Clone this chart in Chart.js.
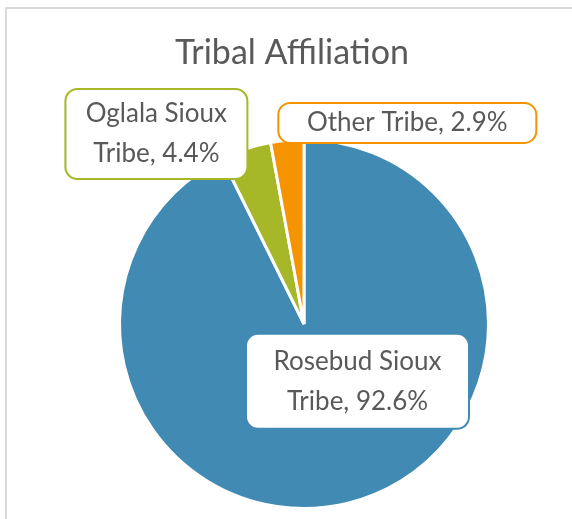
<!DOCTYPE html>
<html>
<head>
<meta charset="utf-8">
<script src="https://cdn.jsdelivr.net/npm/chart.js@4/dist/chart.umd.min.js"></script>
<style>
    body { margin: 0; background: #fff; overflow: hidden; }
    #marco { position: absolute; left: 5px; top: 7px; width: 620px; height: 620px; border: 2px solid #d9d9d9; }
    #lienzo { position: absolute; left: 0; top: 0; }
</style>
</head>
<body>
<div id="marco"></div>
<canvas id="lienzo" width="572" height="519"></canvas>
<script>
const titulo = "Tribal Affiliation";
const tribus = ["Rosebud Sioux Tribe", "Oglala Sioux Tribe", "Other Tribe"];
const porcentajes = [92.6, 4.4, 2.9];
const colores = ["#418ab3", "#a6b727", "#f59300"];

// posición de cada etiqueta respecto al centro, en radios, y tamaño de la caja
const posEtiquetas = [[0.29, 0.31], [-0.80, -1.03], [0.56, -1.09]];
const cajas = [[223, 95], [182, 90], [258, 40]];

const fuente = "Lato, 'Open Sans', sans-serif";
const grisTexto = "#595959";

function partirTexto(ctx, texto, ancho) {
    const palabras = texto.split(" ");
    const lineas = [];
    let actual = "";
    palabras.forEach((p) => {
        const prueba = actual ? actual + " " + p : p;
        if (ctx.measureText(prueba).width > ancho && actual) {
            lineas.push(actual);
            actual = p;
        } else {
            actual = prueba;
        }
    });
    lineas.push(actual);
    return lineas;
}

const etiquetas = {
    id: "etiquetas",
    afterDraw(chart) {
        const ctx = chart.ctx;
        const arcos = chart.getDatasetMeta(0).data;
        ctx.save();

        // título
        ctx.font = "34px " + fuente;
        ctx.fillStyle = grisTexto;
        ctx.textAlign = "center";
        ctx.textBaseline = "middle";
        ctx.fillText(titulo, 292, 53);

        arcos.forEach((arco, i) => {
            const cx = arco.x + posEtiquetas[i][0] * arco.outerRadius;
            const cy = arco.y + posEtiquetas[i][1] * arco.outerRadius;
            const [w, h] = cajas[i];

            ctx.beginPath();
            ctx.roundRect(cx - w / 2, cy - h / 2, w, h, 12);
            ctx.fillStyle = "#ffffff";
            ctx.fill();
            ctx.lineWidth = 2;
            ctx.strokeStyle = colores[i];
            ctx.stroke();

            ctx.font = "26px " + fuente;
            ctx.fillStyle = grisTexto;
            const texto = tribus[i] + ", " + porcentajes[i].toFixed(1) + "%";
            const lineas = partirTexto(ctx, texto, w - 20);
            const alto = 40;
            lineas.forEach((linea, j) => {
                ctx.fillText(linea, cx, cy + (j - (lineas.length - 1) / 2) * alto);
            });
        });
        ctx.restore();
    }
};

new Chart(document.getElementById("lienzo"), {
    type: "pie",
    data: {
        labels: tribus,
        datasets: [
            {
                data: porcentajes,
                backgroundColor: colores,
                borderColor: "#ffffff",
                borderWidth: 3
            }
        ]
    },
    options: {
        responsive: false,
        animation: false,
        layout: {
            padding: { left: 118, right: 82, top: 138, bottom: 9 }
        },
        plugins: {
            legend: { display: false },
            tooltip: { enabled: false }
        }
    },
    plugins: [etiquetas]
});
</script>
</body>
</html>
